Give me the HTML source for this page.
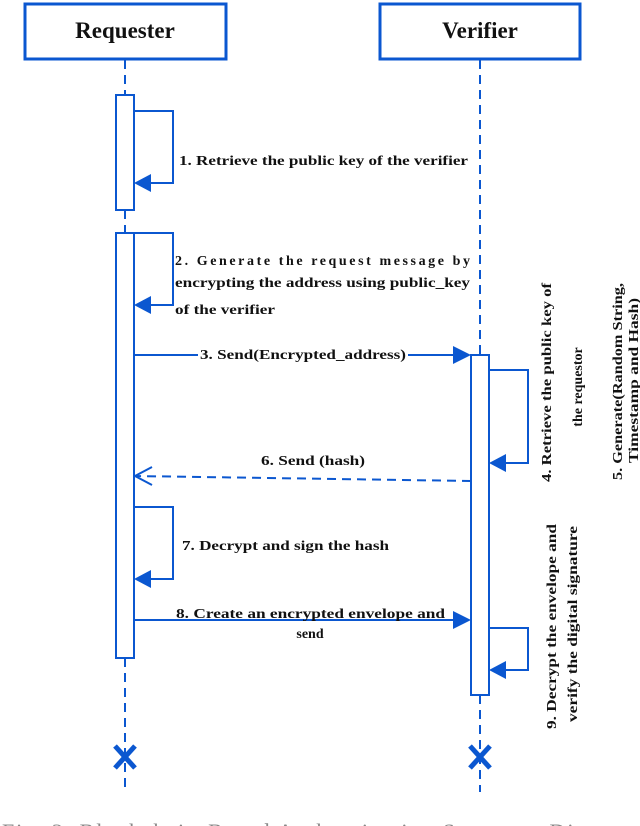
<!DOCTYPE html>
<html><head><meta charset="utf-8"><style>
html,body{margin:0;padding:0;background:#fff;}
svg{display:block;}
text{font-family:"Liberation Serif",serif;font-weight:bold;fill:#111;}
</style></head><body>
<svg width="640" height="826" viewBox="0 0 640 826" xmlns="http://www.w3.org/2000/svg">
<g stroke="#0b57d0" fill="none" stroke-width="2">
<rect x="25" y="4" width="201" height="55" stroke-width="3"/>
<rect x="380" y="4" width="200" height="55" stroke-width="3"/>
<g stroke-dasharray="9,6">
<line x1="125" y1="60" x2="125" y2="95"/>
<line x1="125" y1="210" x2="125" y2="233"/>
<line x1="125" y1="658" x2="125" y2="790"/>
<line x1="480" y1="60" x2="480" y2="355"/>
<line x1="480" y1="695" x2="480" y2="792"/>
<line x1="471" y1="481" x2="134" y2="476"/>
</g>
<rect x="116" y="95" width="18" height="115" fill="#fff"/>
<rect x="116" y="233" width="18" height="425" fill="#fff"/>
<rect x="471" y="355" width="18" height="340" fill="#fff"/>
<polyline points="134,111 173,111 173,183 145,183"/>
<polyline points="134,233 173,233 173,305 145,305"/>
<polyline points="134,507 173,507 173,579 145,579"/>
<polyline points="489,370 528,370 528,463 500,463"/>
<polyline points="489,628 528,628 528,670 500,670"/>
<line x1="134" y1="355" x2="458" y2="355"/>
<line x1="134" y1="620" x2="458" y2="620"/>
<polyline points="152,467 135,476 152,485"/>
</g>
<g fill="#0b57d0">
<polygon points="134,183 151,174 151,192"/>
<polygon points="134,305 151,296 151,314"/>
<polygon points="134,579 151,570 151,588"/>
<polygon points="489,463 506,454 506,472"/>
<polygon points="489,670 506,661 506,679"/>
<polygon points="471,355 453,346 453,364"/>
<polygon points="471,620 453,611 453,629"/>
</g>
<g stroke="#0b57d0" stroke-width="5">
<line x1="115" y1="746" x2="135" y2="768"/><line x1="135" y1="746" x2="115" y2="768"/>
<line x1="470" y1="746" x2="490" y2="768"/><line x1="490" y1="746" x2="470" y2="768"/>
</g>
<text x="125" y="38" font-size="23" text-anchor="middle">Requester</text>
<text x="480" y="38" font-size="23" text-anchor="middle">Verifier</text>
<text x="179" y="165" font-size="14" textLength="289" lengthAdjust="spacingAndGlyphs">1. Retrieve the public key of the verifier</text>
<text x="175" y="265" font-size="14" textLength="295" lengthAdjust="spacing">2. Generate the request message by</text>
<text x="175" y="287" font-size="14" textLength="295" lengthAdjust="spacingAndGlyphs">encrypting the address using public_key</text>
<text x="175" y="314" font-size="14" textLength="100" lengthAdjust="spacingAndGlyphs">of the verifier</text>
<rect x="198" y="346" width="210" height="16" fill="#fff"/>
<text x="200" y="359" font-size="14" textLength="206" lengthAdjust="spacingAndGlyphs">3. Send(Encrypted_address)</text>
<text x="261" y="465" font-size="14" textLength="104" lengthAdjust="spacingAndGlyphs">6. Send (hash)</text>
<text x="182" y="550" font-size="14" textLength="207" lengthAdjust="spacingAndGlyphs">7. Decrypt and sign the hash</text>
<text x="176" y="618" font-size="14" textLength="269" lengthAdjust="spacingAndGlyphs">8. Create an encrypted envelope and</text>
<text x="310" y="638" font-size="14" text-anchor="middle">send</text>
<text transform="translate(551,482) rotate(-90)" font-size="14" textLength="199" lengthAdjust="spacingAndGlyphs">4. Retrieve the public key of</text>
<text transform="translate(582,387) rotate(-90)" font-size="14" text-anchor="middle">the requestor</text>
<text transform="translate(622,480) rotate(-90)" font-size="14" textLength="197" lengthAdjust="spacingAndGlyphs">5. Generate(Random String,</text>
<text transform="translate(638,463) rotate(-90)" font-size="14" textLength="165" lengthAdjust="spacingAndGlyphs">Timestamp and Hash)</text>
<text transform="translate(556,729) rotate(-90)" font-size="14" textLength="205" lengthAdjust="spacingAndGlyphs">9. Decrypt the envelope and</text>
<text transform="translate(577,722) rotate(-90)" font-size="14" textLength="196" lengthAdjust="spacingAndGlyphs">verify the digital signature</text>
<text x="2" y="839" font-size="22" style="font-weight:normal;fill:#888" textLength="636" lengthAdjust="spacing">Fig. 3. Blockchain-Based Authentication Sequence Diagram</text>
</svg>
</body></html>
